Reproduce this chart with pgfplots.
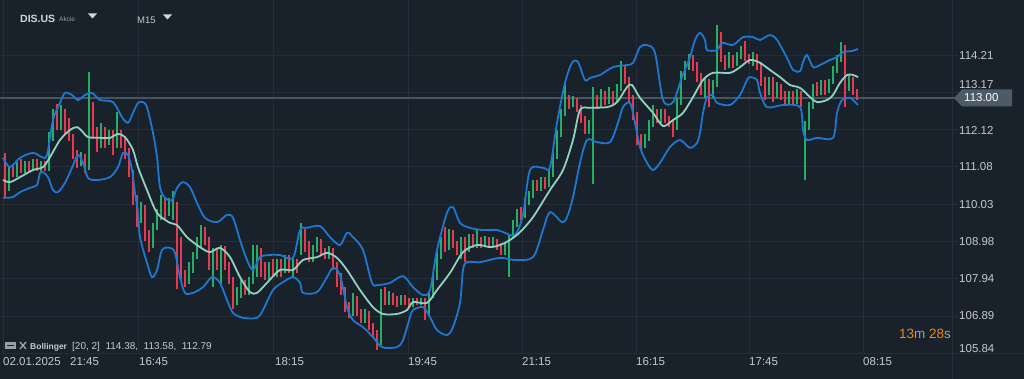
\documentclass[border=0pt]{standalone}
\usepackage{pgfplots}
\pgfplotsset{compat=1.18}
\usepackage{pgfplotstable}
\usepackage{fontspec}
\setmainfont{Liberation Sans}
\definecolor{bg}{HTML}{19212A}
\definecolor{gridc}{HTML}{242E38}
\definecolor{labc}{HTML}{C5C9CE}
\definecolor{titlec}{HTML}{D2D6DA}
\definecolor{subc}{HTML}{98A0A8}
\definecolor{bandc}{HTML}{1E78D2}
\definecolor{midc}{HTML}{8FD2C2}
\definecolor{upc}{HTML}{26AE66}
\definecolor{dnc}{HTML}{E8394F}
\definecolor{plinec}{HTML}{48555F}
\definecolor{tagc}{HTML}{4D5B69}
\definecolor{orangec}{HTML}{E8891A}

\pgfplotstableread{
x o h l c
9 110.70 111.10 110.40 111.00
17 110.85 111.20 110.80 111.10
25 110.95 111.25 110.90 111.15
33 111.00 111.30 110.95 111.20
41 111.05 111.25 110.95 111.15
49 111.00 112.05 110.95 111.90
53 111.90 112.70 111.80 112.50
61 112.20 112.80 112.10 112.60
81 111.20 111.50 111.10 111.40
89 111.10 113.73 111.00 112.50
101 111.70 112.30 111.60 112.10
109 111.80 112.10 111.70 112.00
117 111.70 112.60 111.60 112.00
141 109.70 110.10 109.50 109.90
153 108.90 109.50 108.80 109.40
157 109.40 109.90 109.30 109.80
161 109.80 110.30 109.60 110.10
169 109.80 110.20 109.70 110.00
173 109.80 110.40 109.60 110.30
189 107.90 108.40 107.80 108.30
193 108.30 108.70 108.10 108.60
197 108.60 109.10 108.50 108.90
201 108.90 109.45 108.80 109.30
213 108.40 108.80 107.70 108.70
221 108.40 108.90 107.80 108.80
237 107.40 107.70 107.20 107.60
241 107.60 107.90 107.40 107.80
249 107.60 108.00 107.50 107.90
253 107.90 108.90 107.80 108.60
257 108.30 108.90 108.00 108.70
269 108.00 108.40 107.90 108.30
277 108.10 108.50 108.00 108.40
285 108.20 108.60 108.10 108.50
293 108.20 108.50 108.00 108.45
301 108.70 109.50 108.60 109.30
313 108.50 108.90 108.40 108.80
317 108.80 109.10 108.70 109.00
329 108.55 108.85 108.50 108.75
353 106.95 107.55 106.90 107.40
365 106.80 107.10 106.70 107.00
381 106.15 107.65 106.10 107.50
389 107.30 107.60 107.20 107.50
401 107.25 107.50 107.20 107.45
413 107.20 107.40 107.15 107.35
421 107.25 107.40 107.20 107.35
429 106.95 107.60 106.90 107.50
433 107.50 108.10 107.40 108.00
437 108.00 108.70 107.90 108.60
441 108.60 109.10 108.50 109.00
449 108.80 109.35 108.75 109.20
461 108.75 109.10 108.50 109.00
469 108.80 109.20 108.70 109.10
477 108.90 109.30 108.80 109.05
485 108.90 109.15 108.85 109.05
493 108.90 109.10 108.85 109.00
505 108.70 108.95 108.60 108.85
509 108.85 109.20 108.00 109.15
513 109.15 109.60 109.10 109.50
517 109.50 109.90 109.40 109.80
525 109.70 110.20 109.65 110.10
529 110.10 110.40 110.00 110.30
533 110.30 110.70 110.20 110.60
541 110.45 110.80 110.40 110.70
549 110.55 111.00 110.50 110.90
553 110.90 111.50 110.80 111.40
557 111.40 112.10 111.30 112.00
561 112.00 112.70 111.90 112.60
565 112.60 113.40 112.50 112.90
573 112.80 113.05 112.75 112.95
589 112.10 112.40 112.00 112.30
593 112.30 113.30 110.60 113.00
601 112.80 113.25 112.75 113.10
609 112.90 113.30 112.85 113.15
617 112.95 113.40 112.90 113.30
621 113.30 114.05 113.20 113.80
645 111.70 112.00 111.60 111.90
649 111.90 112.40 111.80 112.30
653 112.30 112.80 112.20 112.60
661 112.40 112.70 112.30 112.60
677 112.20 113.00 112.10 112.90
681 112.90 113.75 112.80 113.60
685 113.60 114.05 113.50 113.90
689 113.90 114.25 113.80 114.10
705 113.20 113.60 113.00 113.50
713 113.10 113.50 113.00 113.40
717 113.40 115.05 113.30 114.30
729 113.90 114.30 113.85 114.15
737 113.95 114.30 113.90 114.20
741 114.20 114.45 114.10 114.35
753 114.05 114.30 113.90 114.20
769 113.20 113.60 113.10 113.50
777 113.10 113.45 113.00 113.35
789 112.90 113.20 112.80 113.10
797 112.90 113.25 112.85 113.15
805 111.00 112.35 110.70 112.20
809 112.20 112.90 112.10 112.80
813 112.80 113.40 112.70 113.30
821 113.15 113.50 113.10 113.40
829 113.20 113.55 113.15 113.45
833 113.45 113.90 113.40 113.80
837 113.80 114.20 113.70 114.10
841 114.10 114.57 114.00 114.40
849 113.30 113.65 113.20 113.55
}\upcandles

\pgfplotstableread{
x o h l c
5 111.40 111.47 110.20 110.70
13 111.00 111.15 110.80 110.85
21 111.10 111.30 110.90 110.95
29 111.15 111.25 110.95 111.00
37 111.20 111.30 110.95 111.05
45 111.15 111.25 110.95 111.00
57 112.50 112.85 112.10 112.20
65 112.60 112.70 112.00 112.30
69 112.30 112.45 111.80 111.90
73 111.90 112.00 111.30 111.40
77 111.40 111.55 111.05 111.20
85 111.40 111.45 110.90 110.95
93 112.50 112.90 111.90 112.00
97 112.00 112.20 111.50 111.70
105 112.10 112.20 111.60 111.80
113 112.00 112.10 111.40 111.70
121 112.00 112.10 111.60 111.80
125 111.80 111.90 111.30 111.50
129 111.50 111.60 110.80 110.90
133 110.90 111.00 110.00 110.20
137 110.20 110.30 109.40 109.70
145 109.90 110.00 109.00 109.20
149 109.20 109.30 108.70 108.90
165 110.10 110.20 109.60 109.80
177 110.00 110.10 107.65 109.00
181 109.00 109.10 107.90 108.10
185 108.10 108.20 107.70 107.90
205 109.30 109.40 108.90 109.00
209 109.00 109.10 108.20 108.40
217 108.70 108.80 108.20 108.40
225 108.80 108.85 108.20 108.30
229 108.30 108.40 107.80 107.90
233 107.90 108.00 107.10 107.40
245 107.80 107.90 107.50 107.60
261 108.70 108.80 108.00 108.30
265 108.30 108.40 107.90 108.00
273 108.30 108.50 108.00 108.10
281 108.40 108.50 108.00 108.20
289 108.50 108.60 108.10 108.20
297 108.45 108.50 108.10 108.20
305 109.30 109.35 108.70 108.80
309 108.80 109.00 108.40 108.50
321 109.00 109.05 108.60 108.70
325 108.70 108.80 108.50 108.55
333 108.75 108.80 108.20 108.30
337 108.30 108.40 107.70 108.00
341 108.00 108.10 107.50 107.60
345 107.60 107.70 107.00 107.20
349 107.20 107.30 106.85 106.95
357 107.40 107.45 106.90 107.00
361 107.00 107.10 106.70 106.80
369 107.00 107.05 106.50 106.60
373 106.60 106.70 106.30 106.40
377 106.40 106.50 105.95 106.10
385 107.50 107.70 107.20 107.30
393 107.50 107.55 107.20 107.30
397 107.30 107.45 107.15 107.25
405 107.45 107.50 107.20 107.30
409 107.30 107.40 107.15 107.20
417 107.35 107.40 107.20 107.25
425 107.35 107.40 106.80 106.95
445 109.00 109.40 108.70 108.80
453 109.20 109.30 108.80 108.90
457 108.90 109.00 108.60 108.75
465 109.00 109.10 108.40 108.80
473 109.10 109.20 108.80 108.90
481 109.05 109.10 108.80 108.90
489 109.05 109.10 108.80 108.90
497 109.00 109.05 108.75 108.85
501 108.85 108.95 108.60 108.70
521 109.80 109.95 109.60 109.70
537 110.60 110.70 110.40 110.45
545 110.70 110.80 110.45 110.55
569 112.90 113.10 112.70 112.80
577 112.95 113.00 112.60 112.70
581 112.70 112.80 112.30 112.40
585 112.40 112.50 112.00 112.10
597 113.00 113.10 112.70 112.80
605 113.10 113.20 112.80 112.90
613 113.15 113.20 112.85 112.95
625 113.80 113.90 113.40 113.50
629 113.50 113.60 112.90 113.00
633 113.00 113.10 112.40 112.50
637 112.50 112.60 111.70 111.90
641 111.90 112.00 111.55 111.70
657 112.60 112.70 112.30 112.40
665 112.60 112.70 112.30 112.40
669 112.40 112.50 112.20 112.30
673 112.30 112.40 111.90 112.20
693 114.10 114.20 113.75 113.85
697 113.85 114.00 113.45 113.60
701 113.60 113.70 113.10 113.20
709 113.50 113.55 112.75 113.10
721 114.60 114.85 114.00 114.10
725 114.10 114.20 113.80 113.90
733 114.15 114.20 113.85 113.95
745 114.35 114.60 114.05 114.15
749 114.15 114.25 113.95 114.05
757 114.20 114.25 113.80 113.90
761 113.90 114.00 113.35 113.50
765 113.50 113.60 112.95 113.20
773 113.50 113.60 112.90 113.10
781 113.35 113.40 112.95 113.05
785 113.05 113.20 112.80 112.90
793 113.10 113.20 112.80 112.90
801 113.15 113.20 112.75 112.85
817 113.30 113.45 113.05 113.15
825 113.40 113.50 113.10 113.20
845 114.40 114.50 112.75 113.30
853 113.55 113.60 113.10 113.20
857 113.20 113.25 112.95 113.00
}\dncandles

\begin{document}
\begin{tikzpicture}
\begin{axis}[
  at={(0,0)}, anchor=south west,
  width=1024pt, height=379pt, scale only axis,
  xmin=0, xmax=1024, ymin=105.138, ymax=115.75,
  axis line style={draw=none},
  xtick=\empty, ytick=\empty,
  axis background/.style={fill=bg},
]
% grid
\draw[gridc, line width=0.9pt] (axis cs:0,114.21) -- (axis cs:958,114.21);
\draw[gridc, line width=0.9pt] (axis cs:0,113.17) -- (axis cs:958,113.17);
\draw[gridc, line width=0.9pt] (axis cs:0,112.12) -- (axis cs:958,112.12);
\draw[gridc, line width=0.9pt] (axis cs:0,111.08) -- (axis cs:958,111.08);
\draw[gridc, line width=0.9pt] (axis cs:0,110.03) -- (axis cs:958,110.03);
\draw[gridc, line width=0.9pt] (axis cs:0,108.98) -- (axis cs:958,108.98);
\draw[gridc, line width=0.9pt] (axis cs:0,107.94) -- (axis cs:958,107.94);
\draw[gridc, line width=0.9pt] (axis cs:0,106.89) -- (axis cs:958,106.89);
\draw[gridc, line width=0.9pt] (axis cs:0,105.84) -- (axis cs:1024,105.84);
\draw[gridc, line width=0.9pt] (axis cs:3,105.84) -- (axis cs:3,115.75);
\draw[gridc, line width=0.9pt] (axis cs:138,105.84) -- (axis cs:138,115.75);
\draw[gridc, line width=0.9pt] (axis cs:273,105.84) -- (axis cs:273,115.75);
\draw[gridc, line width=0.9pt] (axis cs:408,105.84) -- (axis cs:408,115.75);
\draw[gridc, line width=0.9pt] (axis cs:522,105.84) -- (axis cs:522,115.75);
\draw[gridc, line width=0.9pt] (axis cs:636,105.84) -- (axis cs:636,115.75);
\draw[gridc, line width=0.9pt] (axis cs:749,105.84) -- (axis cs:749,115.75);
\draw[gridc, line width=0.9pt] (axis cs:863,105.84) -- (axis cs:863,115.75);
\draw[gridc, line width=0.9pt] (axis cs:952,105.138) -- (axis cs:952,115.75);
% last price line
\draw[plinec, line width=1.8pt] (axis cs:0,113.00) -- (axis cs:955,113.00);

% candles: wicks and bodies
\addplot[draw=upc, line width=1.1pt, quiver={u=0, v=\thisrow{h}-\thisrow{l}}] table[x=x, y=l] {\upcandles};
\addplot[draw=upc, line width=2.7pt, quiver={u=0, v=\thisrow{c}-\thisrow{o}}] table[x=x, y=o] {\upcandles};
\addplot[draw=dnc, line width=1.1pt, quiver={u=0, v=\thisrow{h}-\thisrow{l}}] table[x=x, y=l] {\dncandles};
\addplot[draw=dnc, line width=2.7pt, quiver={u=0, v=\thisrow{o}-\thisrow{c}}] table[x=x, y=c] {\dncandles};

% Bollinger upper
\addplot[bandc, line width=1.8pt, smooth, tension=0.5] coordinates {
(3,111.33)(10,111.07)(20,111.33)(33,111.47)(42,111.35)(47,111.41)(53,112.39)(60,112.87)
(65,113.15)(72,113.09)(78,112.95)(85,113.09)(92,113.15)(100,112.95)(113,112.89)(122,112.47)
(128,112.31)(133,112.59)(138,112.87)(143,112.89)(147,112.75)(153,112.03)(157,111.35)(160,110.51)
(165,110.21)(172,110.15)(177,110.49)(183,110.65)(190,110.51)(197,110.07)(205,109.65)(217,109.53)
(227,109.73)(233,109.65)(240,109.03)(247,108.47)(253,108.19)(260,108.55)(270,108.61)(280,108.61)
(293,108.53)(300,109.31)(307,109.37)(320,109.42)(330,109.11)(340,108.89)(347,109.23)(353,109.11)
(363,108.75)(372,107.83)(378,107.77)(390,107.83)(403,108.02)(413,107.71)(423,107.49)(430,107.63)
(437,108.75)(447,109.79)(453,109.95)(460,109.51)(470,109.37)(483,109.31)(497,109.31)(505,109.23)
(515,109.17)(523,109.73)(530,110.99)(543,111.05)(550,111.07)(557,112.31)(565,113.43)(572,113.99)
(578,114.01)(585,113.51)(590,113.57)(600,113.65)(613,113.87)(627,113.93)(633,113.99)(640,114.43)
(647,114.49)(655,114.27)(663,112.95)(673,112.89)(682,113.59)(690,114.15)(695,114.63)(700,114.83)
(705,114.63)(707,114.35)(717,114.35)(722,114.55)(733,114.49)(743,114.71)(753,114.71)(760,114.63)
(770,114.77)(777,114.63)(787,114.13)(793,113.79)(800,113.76)(803,114.01)(807,114.21)(813,113.87)
(820,113.93)(830,114.07)(837,114.15)(843,114.29)(852,114.32)(858,114.38)
};
% Bollinger lower
\addplot[bandc, line width=1.8pt, smooth, tension=0.5] coordinates {
(3,110.21)(13,110.23)(20,110.37)(30,110.49)(37,110.57)(40,110.91)(43,110.93)(48,110.79)
(53,110.43)(58,110.37)(65,110.63)(72,111.05)(78,111.41)(83,111.19)(88,110.77)(97,110.71)
(110,110.79)(118,111.07)(123,111.47)(128,111.41)(132,110.99)(135,110.35)(138,109.79)(140,109.11)
(147,108.39)(152,107.99)(157,108.19)(162,108.75)(170,108.81)(175,108.67)(180,107.99)(185,107.55)
(193,107.55)(203,107.71)(212,107.99)(220,107.83)(227,107.35)(233,106.99)(243,106.85)(257,106.85)
(263,107.07)(273,107.63)(283,107.85)(293,107.99)(300,107.83)(303,107.55)(317,107.57)(327,107.99)
(333,108.25)(340,108.05)(347,107.15)(353,106.79)(363,106.59)(373,106.31)(382,106.03)(397,106.03)
(403,106.23)(410,106.87)(413,107.07)(423,107.15)(430,106.87)(437,106.51)(447,106.37)(453,106.59)
(460,107.27)(463,108.19)(467,108.41)(480,108.41)(500,108.53)(515,108.47)(533,108.55)(543,109.31)
(550,109.81)(562,109.53)(567,109.67)(573,110.23)(580,111.19)(587,111.83)(597,111.77)(610,111.77)
(618,112.31)(623,112.75)(630,112.87)(635,112.31)(640,111.63)(647,111.19)(653,110.99)(660,111.19)
(670,111.63)(680,111.83)(690,111.61)(697,111.75)(700,112.03)(703,112.59)(707,113.03)(713,113.09)
(717,112.87)(730,112.81)(740,113.09)(747,113.51)(750,113.59)(757,113.51)(760,113.15)(767,112.75)
(783,112.81)(800,112.75)(803,112.11)(807,111.83)(817,111.89)(833,111.89)(837,112.59)(842,112.95)
(850,113.01)(853,112.95)(858,112.81)
};
% Bollinger middle (SMA 20)
\addplot[midc, line width=1.8pt, smooth, tension=0.5] coordinates {
(3,110.71)(10,110.65)(20,110.79)(33,110.99)(43,111.07)(50,111.35)(60,111.83)(70,112.11)
(77,112.19)(83,112.05)(88,111.91)(100,111.89)(110,111.89)(118,112.00)(125,111.91)(133,111.55)
(138,111.07)(147,110.43)(157,109.79)(170,109.51)(177,109.45)(187,109.11)(200,108.83)(210,108.69)
(220,108.81)(230,108.55)(240,107.99)(250,107.57)(257,107.55)(267,107.83)(280,108.19)(293,108.19)
(303,108.47)(317,108.55)(327,108.67)(337,108.53)(347,108.19)(360,107.63)(373,107.15)(383,106.96)
(397,106.96)(407,107.07)(413,107.29)(427,107.27)(437,107.63)(450,108.11)(463,108.69)(477,108.89)
(490,108.83)(500,108.89)(510,109.03)(520,109.25)(533,109.67)(550,110.43)(563,110.99)(573,111.83)
(580,112.67)(590,112.73)(607,112.75)(617,112.89)(627,113.31)(632,113.37)(640,113.01)(653,112.59)
(663,112.22)(673,112.39)(683,112.59)(693,113.03)(703,113.51)(713,113.71)(730,113.71)(740,113.87)
(750,114.07)(760,113.99)(770,113.79)(780,113.59)(790,113.37)(800,113.29)(810,113.03)(817,112.89)
(827,112.95)(833,113.09)(840,113.43)(847,113.65)(853,113.65)(858,113.59)
};
\end{axis}

\begin{scope}[x=1pt, y=1pt]
% header
\node[anchor=west, inner sep=0, font=\fontsize{10.5}{12}\selectfont\bfseries, text=titlec] at (20,360) {DIS.US};
\node[anchor=west, inner sep=0, font=\fontsize{6.5}{8}\selectfont, text=subc] at (59,359.5) {Akcie};
\fill[titlec] (88,365.5) -- (97,365.5) -- (92.5,360.5) -- cycle;
\node[anchor=west, inner sep=0, font=\fontsize{9.5}{11}\selectfont, text=labc] at (137,359) {M15};
\fill[titlec] (163,364.5) -- (172,364.5) -- (167.5,359.5) -- cycle;
% y labels
\begin{scope}[every node/.style={anchor=west, inner sep=0, font=\fontsize{11.5}{13}\selectfont, text=labc}]
\node at (959,324) {114.21};
\node at (959,294.5) {113.17};
\node at (959,249) {112.12};
\node at (959,212) {111.08};
\node at (959,174) {110.03};
\node at (959,137) {108.98};
\node at (959,100) {107.94};
\node at (959,63) {106.89};
\node at (959,30) {105.84};
% x labels
\node at (3,17) {02.01.2025};
\node at (70,17) {21:45};
\node at (139,17) {16:45};
\node at (275,17) {18:15};
\node at (408,17) {19:45};
\node at (522,17) {21:15};
\node at (636,17) {16:15};
\node at (749,17) {17:45};
\node at (863,17) {08:15};
\end{scope}
% last price tag
\fill[tagc] (954,281) -- (962,289.5) -- (1012,289.5) -- (1012,272.5) -- (962,272.5) -- cycle;
\node[anchor=west, inner sep=0, font=\fontsize{11.5}{13}\selectfont, text=white] at (964,281) {113.00};
% indicator legend
\fill[subc] (5,30) rectangle (16,37);
\draw[bg, line width=0.8pt] (7,33.5) -- (14,33.5);
\draw[subc, line width=1.4pt] (20,30) -- (26,37) (20,37) -- (26,30);
\node[anchor=west, inner sep=0, font=\fontsize{8.5}{10}\selectfont\bfseries, text=labc] at (30,32) {Bollinger};
\node[anchor=west, inner sep=0, font=\fontsize{10}{12}\selectfont, text=labc] at (72,32) {[20,\ 2]\ \ 114.38,\ \ 113.58,\ \ 112.79};
% countdown
\node[anchor=west, inner sep=0, font=\fontsize{13.5}{15}\selectfont] at (899,45) {\textcolor{orangec}{13}\textcolor{subc}{m} \textcolor{orangec}{28}\textcolor{subc}{s}};
\end{scope}
\end{tikzpicture}
\end{document}
